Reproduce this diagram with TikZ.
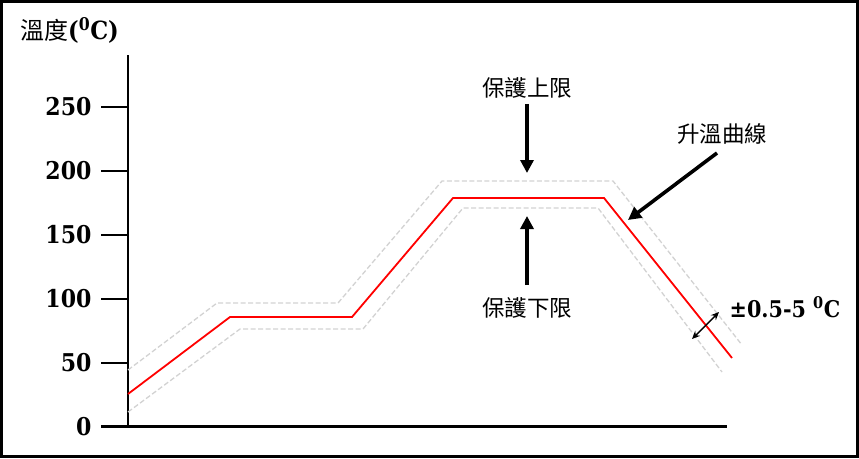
\documentclass[tikz,border=0pt]{standalone}
\usepackage{fontspec}
\newfontfamily\cjk{Noto Sans CJK TC}
\newfontfamily\numfont{DejaVu Serif Condensed}
\usetikzlibrary{arrows.meta,positioning}

\begin{document}
\begin{tikzpicture}[x=1pt,y=-1pt,
	axis/.style={line width=2.3pt},
	curve/.style={red,line width=1.8pt},
	band/.style={gray!35,line width=1.3pt,dash pattern=on 5pt off 2.5pt},
	bigarrow/.style={-{Triangle[length=13pt,width=13pt]},line width=3.6pt},
	tolarrow/.style={{Stealth[length=8pt,width=7pt]}-{Stealth[length=8pt,width=7pt]},line width=1.4pt},
	cjklabel/.style={font=\cjk\fontsize{22.5}{26}\selectfont},
	numlabel/.style={font=\numfont\bfseries\fontsize{24.5}{30}\selectfont,anchor=east}
	]
	\useasboundingbox (0,0) rectangle (859,458);
	\draw[line width=2.6pt] (1.3,1.3) rectangle (857.7,456.7);
	
	% axes and ticks
	\draw[axis] (128,55) -- (128,426.5) -- (727,426.5);
	\draw[axis] (101,426.5) -- (128,426.5);
	\draw[axis] (101,363) -- (128,363);
	\draw[axis] (101,299) -- (128,299);
	\draw[axis] (101,235) -- (128,235);
	\draw[axis] (101,171) -- (128,171);
	\draw[axis] (101,107) -- (128,107);
	
	\node[numlabel] at (95,426.5) (t0) {0};
	\node[numlabel] at (95,363) (t50) {50};
	\node[numlabel] at (95,299) (t100) {100};
	\node[numlabel] at (95,235) (t150) {150};
	\node[numlabel] at (95,171) (t200) {200};
	\node[numlabel] at (95,107) (t250) {250};
	
	\node[anchor=west,inner sep=0pt] at (20,30) (title) {{\cjk\fontsize{24}{28}\selectfont 溫度}{\numfont\bfseries\fontsize{25}{28}\selectfont(\textsuperscript{0}C)}};
	
	% curve and band
	\draw[band] (128,370) -- (217,303) -- (338,303) -- (442,181) -- (613,181) -- (742,345);
	\draw[band] (128,412) -- (240,329) -- (363,329) -- (463,208) -- (598,208) -- (722,372);
	\draw[curve] (128,394) -- (230,317) -- (352,317) -- (453,198) -- (604,198) -- (732,358);
	
	% labels
	\node[cjklabel] at (527,88) (upper) {保護上限};
	\node[cjklabel] at (527,308) (lower) {保護下限};
	\node[cjklabel] at (722,134) (rise) {升溫曲線};
	\node[font=\numfont\bfseries\fontsize{23}{28}\selectfont] at (785,307) (tol) {±0.5-5 \textsuperscript{0}C};
	
	\coordinate (upperTip) at (527,173);
	\coordinate (lowerTip) at (527,216);
	\coordinate (riseTail) at (717,153);
	\coordinate (riseTip) at (628,220);
	\coordinate (tolA) at (692,339);
	\coordinate (tolB) at (719,312);
	
	\path[bigarrow] ([yshift=-2pt]upper.south) edge (upperTip);
	\path[bigarrow] ([yshift=9pt]lower.north) edge (lowerTip);
	\path[bigarrow] (riseTail) edge (riseTip);
	\path[tolarrow] (tolA) edge (tolB);
\end{tikzpicture}
\end{document}
